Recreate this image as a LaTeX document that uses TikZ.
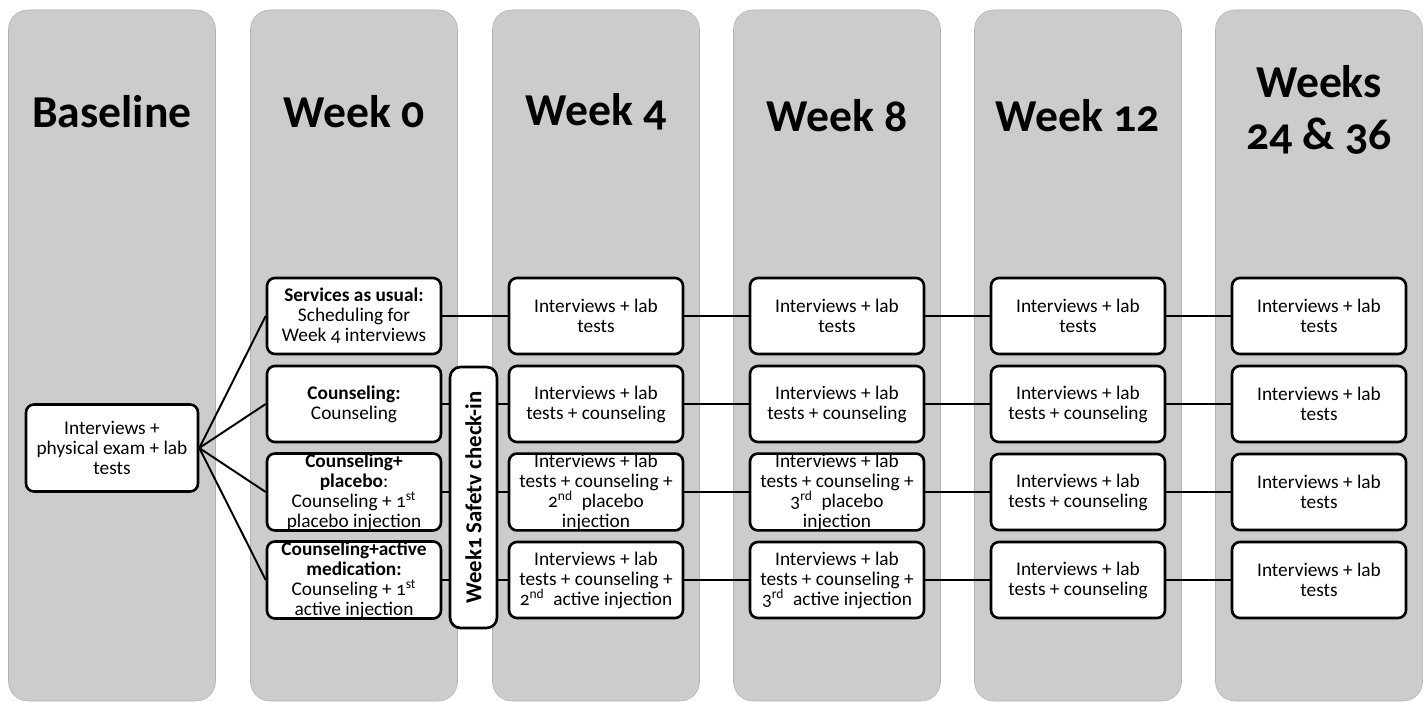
\documentclass[tikz,border=0pt]{standalone}
\usepackage{fontspec}
\setmainfont{Carlito}[Numbers=OldStyle]
\newcommand{\labtests}{Interviews + lab\\tests}
\newcommand{\labcouns}{Interviews + lab\\tests + counseling}
\begin{document}
\begin{tikzpicture}[x=0.02cm,y=-0.02cm]
    \tikzset{
        stage/.style={fill=gray!40, draw=gray!60, line width=0.3pt, rounded corners=11pt},
        heading/.style={font=\bfseries\fontsize{26}{30}\selectfont, align=center},
        visit/.style={draw, fill=white, line width=1.5pt, rounded corners=4.5pt, minimum width=3.48cm,
            minimum height=1.52cm, inner sep=0pt, align=center, font=\fontsize{11}{11.4}\selectfont},
        link/.style={line width=1.1pt}
    }
    \useasboundingbox (0,0) rectangle (1427,702);
    % time points
    \foreach \x/\y/\title in {112/112/Baseline, 354/112/Week 0, 596/112/Week 4, 837/116/Week 8, 1078/116/Week 12, 1319/110/Weeks\\24 \& 36}{
        \draw[stage] (\x-103.5,10) rectangle (\x+103.5,701);
        \node[heading] (t\x) at (\x,\y) {\title};
    }

    \node[visit, minimum width=3.44cm, minimum height=1.74cm] (base) at (112,448) {Interviews +\\physical exam + lab\\tests};

    % week 0 arms
    \node[visit] (w0-1) at (354,316) {\textbf{Services as usual:}\\Scheduling for\\Week 4 interviews};
    \node[visit] (w0-2) at (354,404) {\textbf{Counseling:}\\Counseling};
    \node[visit] (w0-3) at (354,492) {\textbf{Counseling+}\\\textbf{placebo}:\\Counseling + 1\textsuperscript{st}\\placebo injection};
    \node[visit] (w0-4) at (354,580) {\textbf{Counseling+active}\\\textbf{medication:}\\Counseling + 1\textsuperscript{st}\\active injection};

    % follow-up visits
    \foreach \c/\x/\r/\txt in {4/596/1/{\labtests}, 4/596/2/{\labcouns}, 4/596/3/{\labcouns{} +\\2\textsuperscript{nd}\ \ placebo\\injection}, 4/596/4/{\labcouns{} +\\2\textsuperscript{nd}\ \ active injection},
        8/837/1/{\labtests}, 8/837/2/{\labcouns}, 8/837/3/{\labcouns{} +\\3\textsuperscript{rd}\ \ placebo\\injection}, 8/837/4/{\labcouns{} +\\3\textsuperscript{rd}\ \ active injection},
        12/1078/1/{\labtests}, 12/1078/2/{\labcouns}, 12/1078/3/{\labcouns}, 12/1078/4/{\labcouns},
        24/1319/1/{\labtests}, 24/1319/2/{\labtests}, 24/1319/3/{\labtests}, 24/1319/4/{\labtests}}{
        \node[visit] (w\c-\r) at (\x,228+88*\r) {\txt};
    }

    \foreach \r in {1,...,4}{
        \draw[link] (base.east) -- (w0-\r.west);
        \draw[link] (w0-\r.east) -- (w4-\r.west);
        \draw[link] (w4-\r.east) -- (w8-\r.west);
        \draw[link] (w8-\r.east) -- (w12-\r.west);
        \draw[link] (w12-\r.east) -- (w24-\r.west);
    }

    \node[visit, rotate=90, minimum width=5.22cm, minimum height=0.94cm, rounded corners=6pt,
        font=\bfseries\fontsize{13}{14}\selectfont] (safety) at (473.5,497.5) {Week1 Safetv check-in};
\end{tikzpicture}
\end{document}
